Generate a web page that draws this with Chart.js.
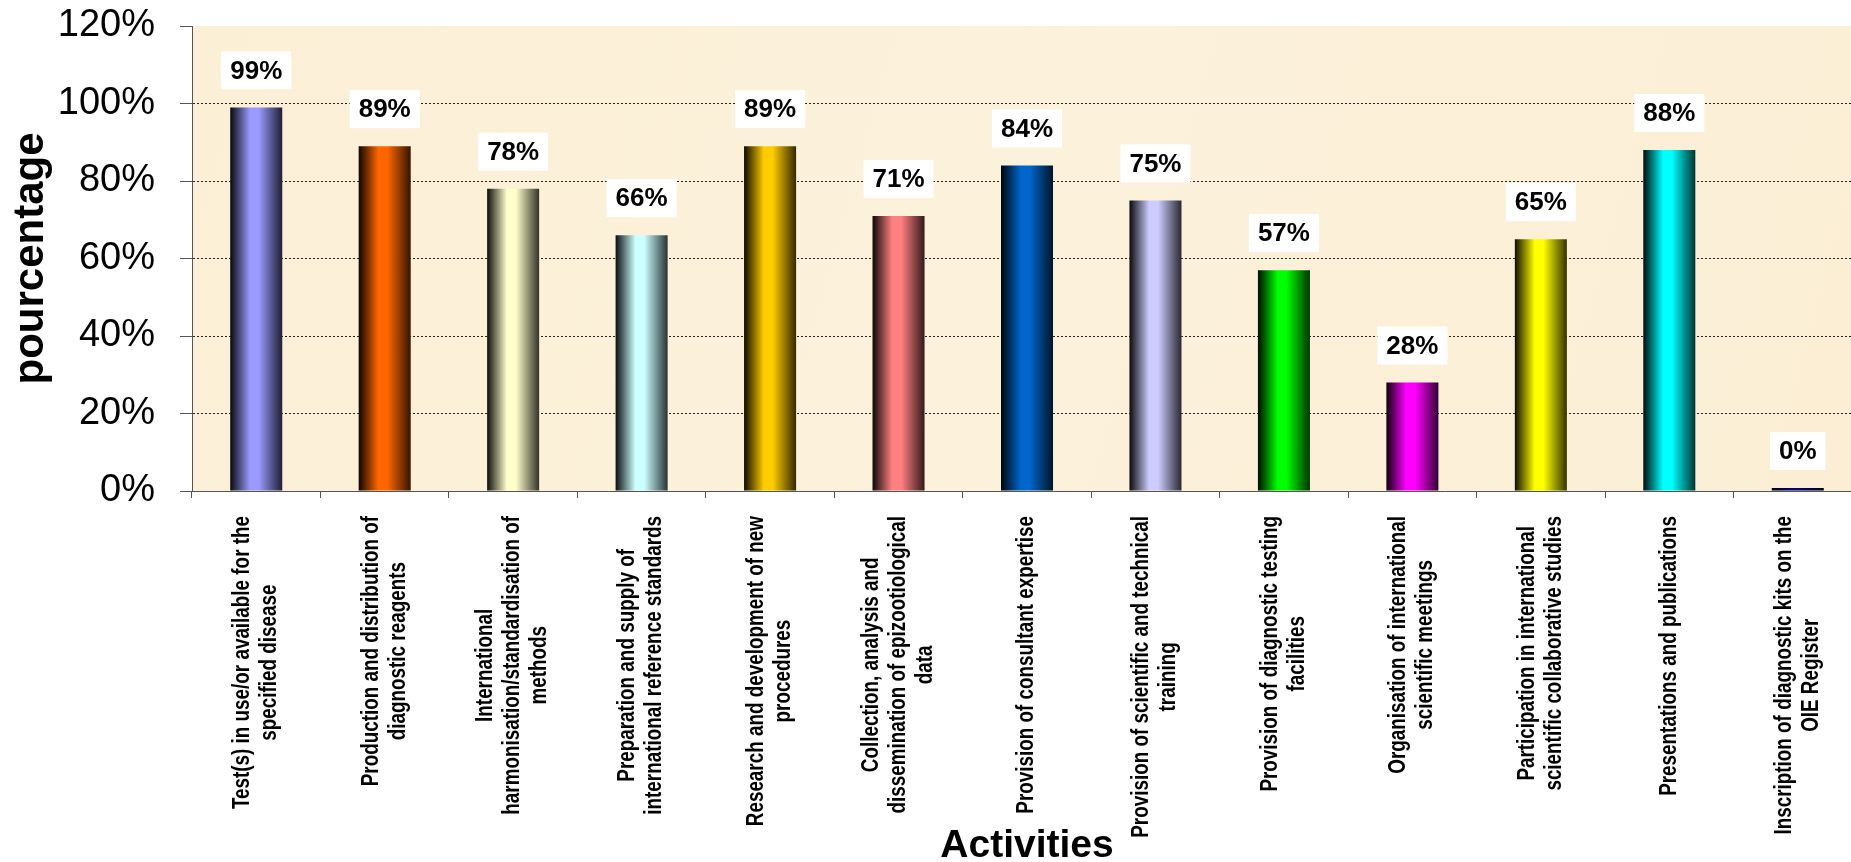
<!DOCTYPE html>
<html>
<head>
<meta charset="utf-8">
<script src="https://cdn.jsdelivr.net/npm/chart.js@4"></script>
<style>
    html, body { margin: 0; padding: 0; background: #ffffff; overflow: hidden; }
    #wrap { width: 1862px; height: 862px; position: relative; }
</style>
</head>
<body>
<div id="wrap"><canvas id="activityChart"></canvas></div>
<script>
// Categories (one entry per line of the label)
const activities = [
    ["Test(s) in use/or available for the", "specified disease"],
    ["Production and distribution of", "diagnostic reagents"],
    ["International", "harmonisation/standardisation of", "methods"],
    ["Preparation and supply of", "international reference standards"],
    ["Research and development of new", "procedures"],
    ["Collection, analysis and", "dissemination of epizootiological", "data"],
    ["Provision of consultant expertise"],
    ["Provision of scientific and technical", "training"],
    ["Provision of diagnostic testing", "facilities"],
    ["Organisation of international", "scientific meetings"],
    ["Participation in international", "scientific collaborative studies"],
    ["Presentations and publications"],
    ["Inscription of diagnostic kits on the", "OIE Register"]
];

// Percentages
const percentages = [99, 89, 78, 66, 89, 71, 84, 75, 57, 28, 65, 88, 0];

// Bar colours
const barColors = [
    "#9999FF", "#FF6600", "#FFFFCC", "#CCFFFF", "#FFCC00", "#FF8080", "#0066CC",
    "#CCCCFF", "#00FF00", "#FF00FF", "#FFFF00", "#00FFFF", "#000080"
];

// Y axis ticks
const yTicks = [0, 20, 40, 60, 80, 100, 120];

const BAR_PCT = 0.405;

function shade(hex, f) {
    let r = parseInt(hex.substr(1, 2), 16);
    let g = parseInt(hex.substr(3, 2), 16);
    let b = parseInt(hex.substr(5, 2), 16);
    return "rgb(" + Math.round(r * f) + "," + Math.round(g * f) + "," + Math.round(b * f) + ")";
}

// horizontal dark - colour - dark gradient, like the old Excel bars
function barGradient(context) {
    let chart = context.chart;
    let base = barColors[context.dataIndex];
    if (!chart.chartArea || !chart.scales.x) return base;
    let x = chart.scales.x;
    let cx = x.getPixelForValue(context.dataIndex);
    let w = (x.width / activities.length) * BAR_PCT;
    let g = chart.ctx.createLinearGradient(cx - w / 2, 0, cx + w / 2, 0);
    g.addColorStop(0, shade(base, 0.05));
    g.addColorStop(0.38, base);
    g.addColorStop(0.55, base);
    g.addColorStop(1, shade(base, 0.2));
    return g;
}

// cream plot background
const plotBackground = {
    id: "plotBackground",
    beforeDraw(chart) {
        let {ctx, chartArea} = chart;
        ctx.save();
        let g = ctx.createLinearGradient(chartArea.left, chartArea.top, chartArea.right, chartArea.bottom);
        g.addColorStop(0, "#FBEFD6");
        g.addColorStop(0.5, "#FCF1DB");
        g.addColorStop(1, "#FBEED5");
        ctx.fillStyle = g;
        ctx.fillRect(chartArea.left, chartArea.top, chartArea.right - chartArea.left, chartArea.bottom - chartArea.top);
        ctx.restore();
    }
};

// white boxes with the value above each bar
const valueLabels = {
    id: "valueLabels",
    afterDatasetsDraw(chart) {
        let ctx = chart.ctx;
        let meta = chart.getDatasetMeta(0);
        ctx.save();
        ctx.font = "bold 26px 'Liberation Sans', Arial, sans-serif";
        ctx.textAlign = "center";
        ctx.textBaseline = "middle";
        meta.data.forEach((bar, i) => {
            let text = percentages[i] + "%";
            let w = ctx.measureText(text).width + 18;
            let h = 38;
            let cy = bar.y - 18 - h / 2;
            ctx.fillStyle = "#ffffff";
            ctx.fillRect(bar.x - w / 2, cy - h / 2, w, h);
            ctx.fillStyle = "#000000";
            ctx.fillText(text, bar.x, cy + 1);
        });
        ctx.restore();
    }
};

// rotated category labels, lines centred on each other
const categoryLabels = {
    id: "categoryLabels",
    afterDraw(chart) {
        let ctx = chart.ctx;
        let x = chart.scales.x;
        let lineH = 27;
        let topY = chart.chartArea.bottom + 25;
        ctx.save();
        ctx.font = "bold 23px 'Liberation Sans', Arial, sans-serif";
        ctx.fillStyle = "#000000";
        ctx.textAlign = "center";
        ctx.textBaseline = "middle";
        activities.forEach((lines, i) => {
            let cx = x.getPixelForValue(i);
            let maxW = Math.max(...lines.map(l => ctx.measureText(l).width)) * 0.82;
            lines.forEach((line, k) => {
                let lx = cx + (k - (lines.length - 1) / 2) * lineH;
                ctx.save();
                ctx.translate(lx, topY + maxW / 2);
                ctx.rotate(-Math.PI / 2);
                ctx.scale(0.82, 1);
                ctx.fillText(line, 0, 0);
                ctx.restore();
            });
        });
        ctx.restore();
    }
};

let chart = new Chart(document.getElementById("activityChart"), {
    type: "bar",
    data: {
        labels: activities.map(l => l.join(" ")),
        datasets: [{
            data: percentages,
            backgroundColor: barGradient,
            borderWidth: 0,
            minBarLength: 3,
            barPercentage: BAR_PCT,
            categoryPercentage: 1
        }]
    },
    options: {
        responsive: true,
        maintainAspectRatio: false,
        animation: false,
        layout: { padding: { top: 26, right: 0, left: 0, bottom: 0 } },
        plugins: {
            legend: { display: false },
            tooltip: { enabled: false }
        },
        scales: {
            x: {
                offset: true,
                grid: {
                    offset: true,
                    drawOnChartArea: false,
                    drawTicks: true,
                    tickLength: 7,
                    tickColor: "#555555"
                },
                border: { display: true, color: "#555555", width: 1 },
                ticks: { display: false },
                title: {
                    display: true,
                    text: "Activities",
                    color: "#000000",
                    font: { family: "'Liberation Sans', Arial, sans-serif", size: 39, weight: "bold", lineHeight: 0.8 },
                    padding: { top: 0, bottom: 0 }
                },
                afterFit(scale) { scale.height = 371; }
            },
            y: {
                min: 0,
                max: 120,
                afterBuildTicks(scale) { scale.ticks = yTicks.map(v => ({ value: v })); },
                ticks: {
                    callback: v => v + "%",
                    color: "#000000",
                    padding: 25,
                    font: { family: "'Liberation Sans', Arial, sans-serif", size: 38 }
                },
                grid: {
                    color: c => (c.tick && (c.tick.value === 0 || c.tick.value === 120)) ? "rgba(0,0,0,0)" : "#222222",
                    lineWidth: 1,
                    tickLength: 12,
                    tickColor: "#555555"
                },
                border: { display: true, color: "#555555", width: 1, dash: [2, 2] },
                title: {
                    display: true,
                    text: "pourcentage",
                    color: "#000000",
                    font: { family: "'Liberation Sans', Arial, sans-serif", size: 42, weight: "bold", lineHeight: 1.2 },
                    padding: { top: 6, bottom: 0 }
                },
                afterFit(scale) {
                    scale.width = 192;
                    scale.paddingTop = 0;
                    scale.paddingBottom = 0;
                }
            }
        }
    },
    plugins: [plotBackground, valueLabels, categoryLabels]
});
</script>
</body>
</html>
